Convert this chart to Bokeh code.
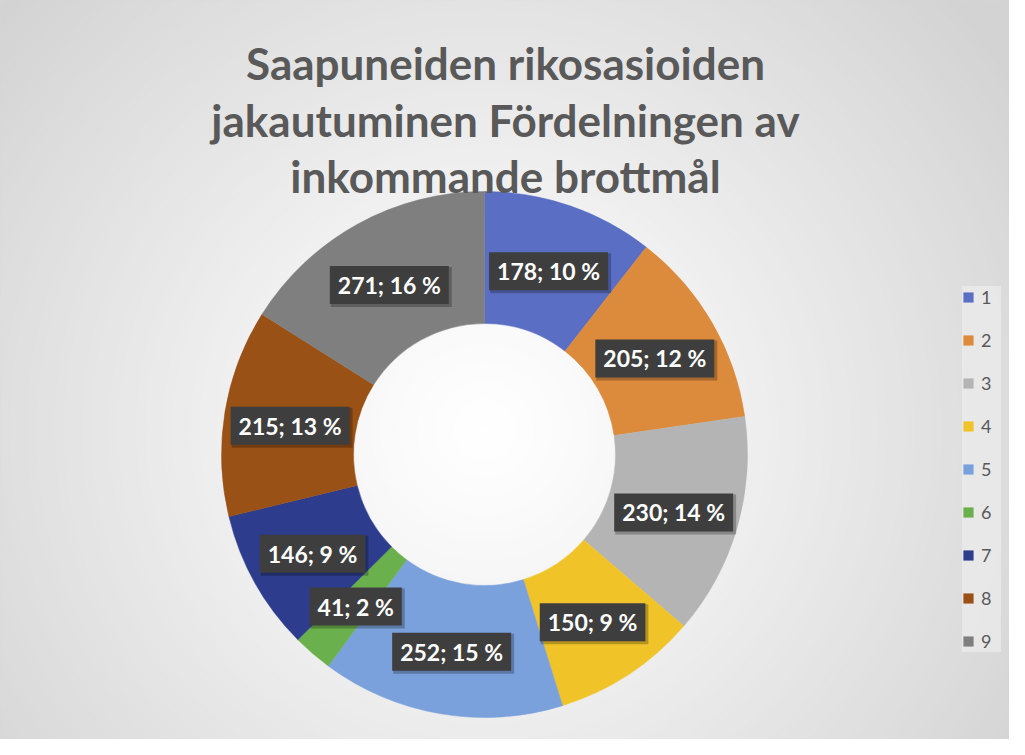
import numpy as np
from bokeh.plotting import figure
from bokeh.models import ColumnDataSource, Range1d
from bokeh.core.properties import value
from bokeh.embed import file_html
from bokeh.resources import INLINE

# ---- data ----
categories = ["1", "2", "3", "4", "5", "6", "7", "8", "9"]
counts = [178, 205, 230, 150, 252, 41, 146, 215, 271]
percents = [10, 12, 14, 9, 15, 2, 9, 13, 16]
title_lines = ["Saapuneiden rikosasioiden",
               "jakautuminen Fördelningen av",
               "inkommande brottmål"]

# ---- styles ----
colors = ["#5a6fc4", "#dc8b3c", "#b4b4b4", "#f0c428", "#7ba1dc",
          "#6ab04c", "#2d3c8c", "#9a5116", "#7f7f7f"]
W, H = 1009, 739
CX, CY = 484, 285
R_IN, R_OUT = 131, 263
FONT = "Lato"

p = figure(width=W, height=H, x_range=Range1d(0, W), y_range=Range1d(0, H),
           output_backend="svg", toolbar_location=None, min_border=0)
p.axis.visible = False
p.grid.visible = False
p.outline_line_color = None
p.background_fill_color = "#d4d4d4"
p.border_fill_color = "#d4d4d4"

# radial background gradient
n = 80
rs = np.linspace(720, 4, n)
grad_cols = []
for r in rs:
    t = min(r / 640.0, 1.0)
    c = int(round(255 - 44 * t ** 1.15))
    grad_cols.append("#%02x%02x%02x" % (c, c, c))
p.circle(x=[CX] * n, y=[CY + 25] * n, radius=rs, fill_color=grad_cols,
         line_color=None)

# donut
vals = np.array(counts, dtype=float)
total = vals.sum()
cum_after = np.cumsum(vals) / total
cum_before = cum_after - vals / total
a_start = np.pi / 2 - 2 * np.pi * cum_after
a_end = np.pi / 2 - 2 * np.pi * cum_before
mid = (a_start + a_end) / 2
r_mid = (R_IN + R_OUT) / 2
lx = CX + r_mid * np.cos(mid)
ly = CY + r_mid * np.sin(mid) - 3
src = ColumnDataSource(dict(
    cat=categories, start=a_start, end=a_end, color=colors,
    lx=lx, ly=ly, sx=lx + 2, sy=ly - 2,
    lab=[f"{c}; {q} %" for c, q in zip(counts, percents)],
))
p.annular_wedge(x=CX, y=CY, inner_radius=R_IN, outer_radius=R_OUT,
                start_angle="start", end_angle="end", fill_color="color",
                line_color="color", line_width=0.5, source=src,
                legend_field="cat")

# data labels (soft shadow + box)
p.text(x="sx", y="sy", text="lab", source=src, text_align="center",
       text_baseline="middle", text_alpha=0, text_font=value(FONT),
       text_font_style="bold", text_font_size="23px",
       background_fill_color="#000000", background_fill_alpha=0.25,
       padding=(9, 6))
p.text(x="lx", y="ly", text="lab", source=src, text_align="center",
       text_baseline="middle", text_color="white", text_font=value(FONT),
       text_font_style="bold", text_font_size="23px",
       background_fill_color="#3e3e3e", padding=(8, 5))

# title
tsrc = ColumnDataSource(dict(x=[505] * 3, y=[677, 620, 564], t=title_lines))
p.text(x="x", y="y", text="t", source=tsrc, text_align="center",
       text_baseline="alphabetic", text_color="#595959", text_font=value(FONT),
       text_font_style="bold", text_font_size="44px")

# legend
lg = p.legend[0]
lg.location = (962, 87)
lg.margin = 0
lg.padding = 10
lg.spacing = 21
lg.glyph_width = 12
lg.glyph_height = 12
lg.label_height = 20
lg.label_standoff = 7
lg.label_text_font = FONT
lg.label_text_font_size = "18px"
lg.label_text_color = "#595959"
lg.background_fill_color = "#ededed"
lg.background_fill_alpha = 0.7
lg.border_line_color = None

open("out.html", "w").write(file_html(p, INLINE))
